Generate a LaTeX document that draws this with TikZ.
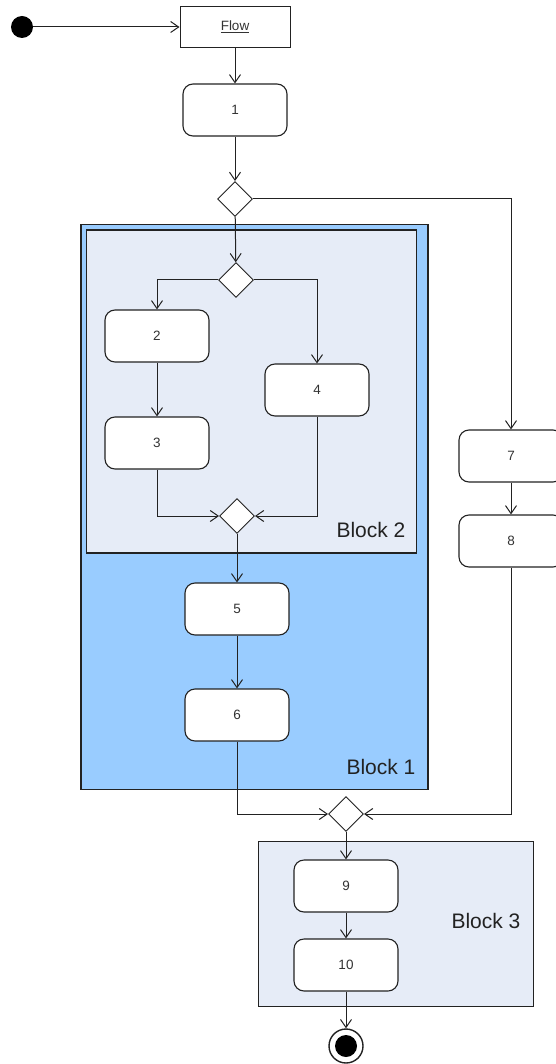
\documentclass[tikz,border=0pt]{standalone}
\usepackage{fontspec}
\setmainfont{Liberation Sans}
\usetikzlibrary{shapes.geometric,arrows.meta}
\definecolor{blockblue}{HTML}{99CCFF}
\definecolor{blocklight}{HTML}{E6ECF7}
\definecolor{edgegray}{HTML}{222222}
\definecolor{textgray}{HTML}{333333}
\tikzset{
  act/.style={draw=edgegray,line width=1.1pt,fill=white,rounded corners=10pt,minimum width=104pt,minimum height=52pt,inner sep=0pt,text=textgray,font=\fontsize{13.5}{16}\selectfont},
  dec/.style={draw=edgegray,line width=0.9pt,fill=white,diamond,minimum width=35pt,minimum height=35pt,inner sep=0pt},
  blockbox/.style={draw=edgegray,line width=1.2pt,inner sep=0pt},
  blocklabel/.style={font=\fontsize{21}{24}\selectfont,text=edgegray,inner sep=0pt},
  arr/.style={draw=edgegray,line width=1pt,-{Straight Barb[length=8pt,width=11pt,line width=1pt]}},
  ln/.style={draw=edgegray,line width=1pt}
}
\begin{document}
\begin{tikzpicture}[x=1pt,y=-1pt]
\clip (0,0) rectangle (556,1064);
\fill[white] (0,0) rectangle (556,1064);
% blocks
\node[blockbox,fill=blockblue,minimum width=347pt,minimum height=565pt,line width=1.4pt] (block1) at (254.5,507) {};
\node[blockbox,fill=blocklight,minimum width=330pt,minimum height=323pt] (block2) at (251.5,391.5) {};
\node[blockbox,fill=blocklight,minimum width=275pt,minimum height=165pt,line width=0.9pt] (block3) at (395.5,923.5) {};
\node[blocklabel] (lab2) at (371,530) {Block 2};
\node[blocklabel] (lab1) at (381,767) {Block 1};
\node[blocklabel] (lab3) at (486,921) {Block 3};
% start / end
\node[circle,fill=black,minimum size=22pt,inner sep=0pt] (start) at (22,27) {};
\node[circle,draw=edgegray,line width=1.4pt,fill=white,minimum size=34pt,inner sep=0pt] (end) at (346,1046) {};
\node[circle,fill=black,minimum size=22pt,inner sep=0pt] (endin) at (end.center) {};
% flow box
\node[draw=edgegray,line width=1pt,fill=white,minimum width=110pt,minimum height=41pt,inner sep=0pt,text=textgray,font=\fontsize{13.5}{16}\selectfont] (flow) at (235,27) {\underline{Flow}};
% actions
\node[act] (n1) at (235,110) {1};
\node[act] (n2) at (157,336) {2};
\node[act] (n3) at (157,443) {3};
\node[act] (n4) at (317,390) {4};
\node[act] (n5) at (237,609) {5};
\node[act] (n6) at (237,715) {6};
\node[act] (n7) at (511,456) {7};
\node[act] (n8) at (511,541) {8};
\node[act] (n9) at (346,886) {9};
\node[act] (n10) at (346,965) {10};
% decisions
\node[dec] (d1) at (235,199) {};
\node[dec] (d2) at (236,280) {};
\node[dec] (d3) at (237,516) {};
\node[dec] (d4) at (346,814) {};
% connectors
\draw[arr] (start) -- (flow);
\draw[arr] (flow) -- (n1);
\draw[arr] (n1.south) -- (d1.north);
\draw[arr] (d1.east) -| (n7.north);
\draw[arr] (d1) -- (d2);
\draw[arr] (d2.west) -| (n2.north);
\draw[arr] (d2.east) -| (n4.north);
\draw[arr] (n2) -- (n3);
\draw[arr] (n3.south) |- (d3.west);
\draw[arr] (n4.south) |- (d3.east);
\draw[arr] (d3) -- (n5);
\draw[arr] (n5) -- (n6);
\draw[arr] (n6.south) |- (d4.west);
\draw[arr] (n7) -- (n8);
\draw[arr] (n8.south) |- (d4.east);
\draw[arr] (d4) -- (n9);
\draw[arr] (n9) -- (n10);
\draw[arr] (n10) -- (end);
\end{tikzpicture}
\end{document}
